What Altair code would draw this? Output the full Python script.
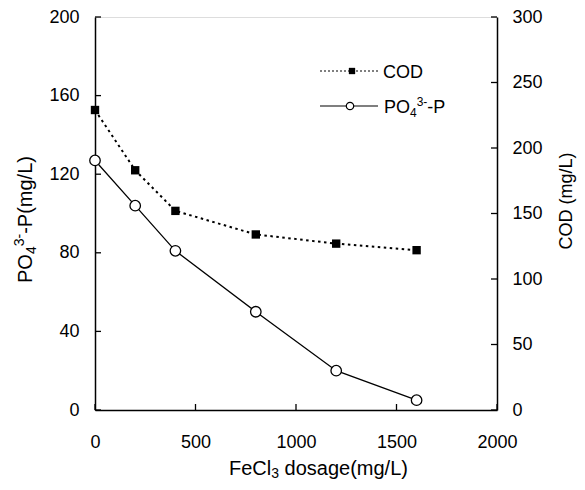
import altair as alt
import pandas as pd

# ---- data ----
dosage = [0, 200, 400, 800, 1200, 1600]
po4 = [127, 104, 81, 50, 20, 5]
cod = [229, 183, 152, 134, 127, 122]
x_ticks = [0, 500, 1000, 1500, 2000]
left_ticks = [0, 40, 80, 120, 160, 200]
right_ticks = [0, 50, 100, 150, 200, 250, 300]

W, H = 402, 393
FONT = "Liberation Sans"
FS = 18
SUB = 12

df = pd.DataFrame({"dosage": dosage, "po4": po4, "cod": cod})
one = pd.DataFrame({"k": [0]})

# Arial / Liberation Sans advance widths (per 1000 em)
AW = {'P': 667, 'O': 778, 'C': 722, 'D': 722, 'F': 611, 'L': 556, 'e': 556, 'l': 222,
      'd': 556, 'o': 556, 's': 500, 'a': 556, 'g': 556, 'm': 833, '(': 333, ')': 333,
      '/': 278, ' ': 278, '-': 333}
for c in "0123456789":
    AW[c] = 556


def tw(t, size):
    return sum(AW.get(c, 556) for c in t) * size / 1000.0


def rich(pieces, x0, y0, vertical=False):
    """pieces: list of (text, size, shift); shift>0 means lowered (subscript)."""
    out = []
    pos = 0.0
    for txt, size, shift in pieces:
        lead = len(txt) - len(txt.lstrip(" "))
        pos += tw(" " * lead, size)
        txt = txt.lstrip(" ")
        if vertical:
            x, y, ang = x0 + shift, y0 - pos, 270
        else:
            x, y, ang = x0 + pos, y0 + shift, 0
        out.append(
            alt.Chart(one).mark_text(text=txt, font=FONT, fontSize=size, color="black",
                                     align="left", baseline="alphabetic", angle=ang)
            .encode(x=alt.value(x), y=alt.value(y))
        )
        pos += tw(txt, size)
    return out


axis_common = dict(title=None, ticks=False, tickSize=0, labelFontSize=FS, labelFont=FONT,
                   labelColor="black", domainColor="black", domainWidth=1.5, grid=False,
                   labelOverlap=False, format="d")

x_scale = alt.Scale(domain=[0, 2000], nice=False, zero=False)
x_axis = alt.Axis(values=x_ticks, labelPadding=23, labelFlush=False, **axis_common)

yl_scale = alt.Scale(domain=[0, 200], nice=False, zero=False)
yl_axis = alt.Axis(values=left_ticks, orient="left", labelPadding=16, **axis_common)

yr_scale = alt.Scale(domain=[0, 300], nice=False, zero=False)
yr_axis = alt.Axis(values=right_ticks, orient="right", labelPadding=15, **axis_common)

X = alt.X("dosage:Q", scale=x_scale, axis=x_axis)

# ---- PO4 (left axis) ----
po4_line = alt.Chart(df).mark_line(color="black", strokeWidth=1.3).encode(
    x=X, y=alt.Y("po4:Q", scale=yl_scale, axis=yl_axis))
po4_pts = alt.Chart(df).mark_point(shape="circle", filled=True, fill="white", stroke="black",
                                   strokeWidth=1.3, size=110, opacity=1).encode(
    x=X, y=alt.Y("po4:Q", scale=yl_scale, axis=yl_axis))
lt_rules = alt.Chart(pd.DataFrame({"v": left_ticks})).mark_rule(color="black", strokeWidth=1.3).encode(
    y=alt.Y("v:Q", scale=yl_scale, axis=yl_axis), x=alt.value(0), x2=alt.value(6))
xt_rules = alt.Chart(pd.DataFrame({"v": x_ticks})).mark_rule(color="black", strokeWidth=1.3).encode(
    x=alt.X("v:Q", scale=x_scale, axis=x_axis), y=alt.value(H), y2=alt.value(H - 6))

left = alt.layer(po4_line, lt_rules, xt_rules, po4_pts)

# ---- COD (right axis) ----
cod_line = alt.Chart(df).mark_line(color="black", strokeWidth=2, strokeDash=[2.5, 3.5]).encode(
    x=X, y=alt.Y("cod:Q", scale=yr_scale, axis=yr_axis))
cod_pts = alt.Chart(df).mark_point(shape="square", filled=True, color="black", size=70,
                                   opacity=1).encode(
    x=X, y=alt.Y("cod:Q", scale=yr_scale, axis=yr_axis))
rt_rules = alt.Chart(pd.DataFrame({"v": right_ticks})).mark_rule(color="black", strokeWidth=1.3).encode(
    y=alt.Y("v:Q", scale=yr_scale, axis=yr_axis), x=alt.value(W), x2=alt.value(W - 6))

right = alt.layer(cod_line, rt_rules, cod_pts)

# ---- titles ----
TF = 20
TS = 14
texts = []
texts += rich([("FeCl", TF, 0), ("3", TS, 3), (" dosage(mg/L)", TF, 0)], 134, 458)
texts += rich([("PO", TF, 0), ("4", TS, 4), ("3-", TS, -8), ("-P(mg/L)", TF, 0)], -63, 266,
              vertical=True)
texts.append(
    alt.Chart(one).mark_text(text="COD (mg/L)", font=FONT, fontSize=FS, color="black",
                             align="center", baseline="alphabetic", angle=270)
    .encode(x=alt.value(477), y=alt.value(184))
)

# ---- legend ----
leg = []
leg.append(alt.Chart(one).mark_rule(color="black", strokeWidth=1.2, strokeDash=[2, 2]).encode(
    x=alt.value(225), x2=alt.value(283), y=alt.value(54)))
leg.append(alt.Chart(one).mark_point(shape="square", filled=True, color="black", size=40,
                                     opacity=1).encode(x=alt.value(257), y=alt.value(54)))
leg += rich([("COD", FS, 0)], 288, 60.5)
leg.append(alt.Chart(one).mark_rule(color="black", strokeWidth=1.2).encode(
    x=alt.value(225), x2=alt.value(283), y=alt.value(89)))
leg.append(alt.Chart(one).mark_point(shape="circle", filled=True, fill="white", stroke="black",
                                     strokeWidth=1.2, size=55, opacity=1).encode(
    x=alt.value(255), y=alt.value(89)))
leg += rich([("PO", FS, 0), ("4", SUB, 4), ("3-", SUB, -7), ("-P", FS, 0)], 289, 95.5)

chart = alt.layer(left, right, *texts, *leg).resolve_scale(y="independent").properties(
    width=W, height=H,
    padding={"left": 87, "top": 9, "right": 80, "bottom": 72},
    autosize="none",
).configure_view(stroke="black", strokeWidth=1.5).configure(background="white")

chart.save("out.html", embed_options={"renderer": "svg", "actions": False})
